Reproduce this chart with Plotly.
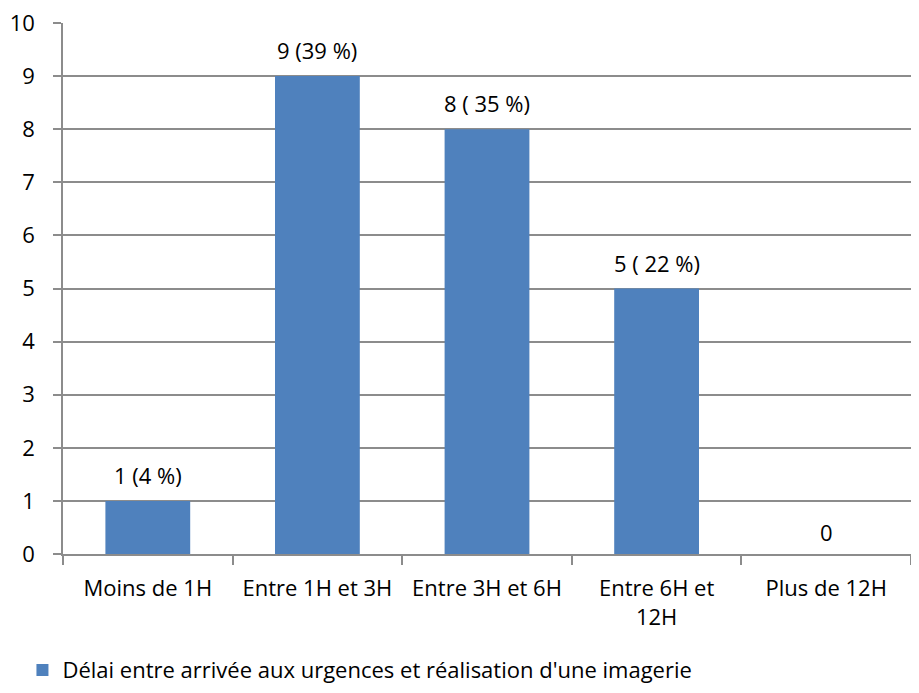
import plotly.graph_objects as go

categories = ["Moins de 1H", "Entre 1H et 3H", "Entre 3H et 6H", "Entre 6H et<br>12H", "Plus de 12H"]
values = [1, 9, 8, 5, 0]
labels = ["1 (4 %)", "9 (39 %)", "8 ( 35 %)", "5 ( 22 %)", "0"]
series_name = "Délai entre arrivée aux urgences et réalisation d'une imagerie"
y_ticks = list(range(0, 11))

FONT = "Open Sans, Liberation Sans, sans-serif"
GRID = "#8c8c8c"
FS = 22

fig = go.Figure(go.Bar(
    x=categories, y=values, name=series_name,
    marker=dict(color="#4F81BD", line=dict(width=0)),
    showlegend=True,
))

for c, v, t in zip(categories, values, labels):
    fig.add_annotation(x=c, y=v, text=t, showarrow=False, yanchor="middle",
                       yshift=26 if v > 0 else 22,
                       font=dict(size=FS, color="#000000", family=FONT))

fig.update_layout(
    width=903, height=677,
    margin=dict(l=55, r=0, t=15, b=131, autoexpand=False),
    paper_bgcolor="white", plot_bgcolor="white",
    bargap=0.5,
    font=dict(family=FONT, size=FS, color="#000000"),
    legend=dict(orientation="h", xref="container", yref="container",
                x=0.016, y=0.022, xanchor="left", yanchor="middle",
                font=dict(size=FS), itemwidth=30),
    xaxis=dict(showline=True, linecolor=GRID, linewidth=1.5,
               ticks="outside", tickson="boundaries", ticklen=9,
               tickcolor=GRID, tickwidth=1.5, ticklabelstandoff=14,
               showgrid=False, ticklabeloverflow="allow", automargin=False),
    yaxis=dict(range=[0, 10], tickvals=y_ticks, showline=True, linecolor=GRID,
               linewidth=1.5, ticks="outside", ticklen=8, tickcolor=GRID,
               tickwidth=1.5, showgrid=True, gridcolor=GRID, gridwidth=1.5,
               zeroline=False, ticklabelstandoff=14, ticklabeloverflow="allow",
               automargin=False),
)

fig.write_html("out.html")
